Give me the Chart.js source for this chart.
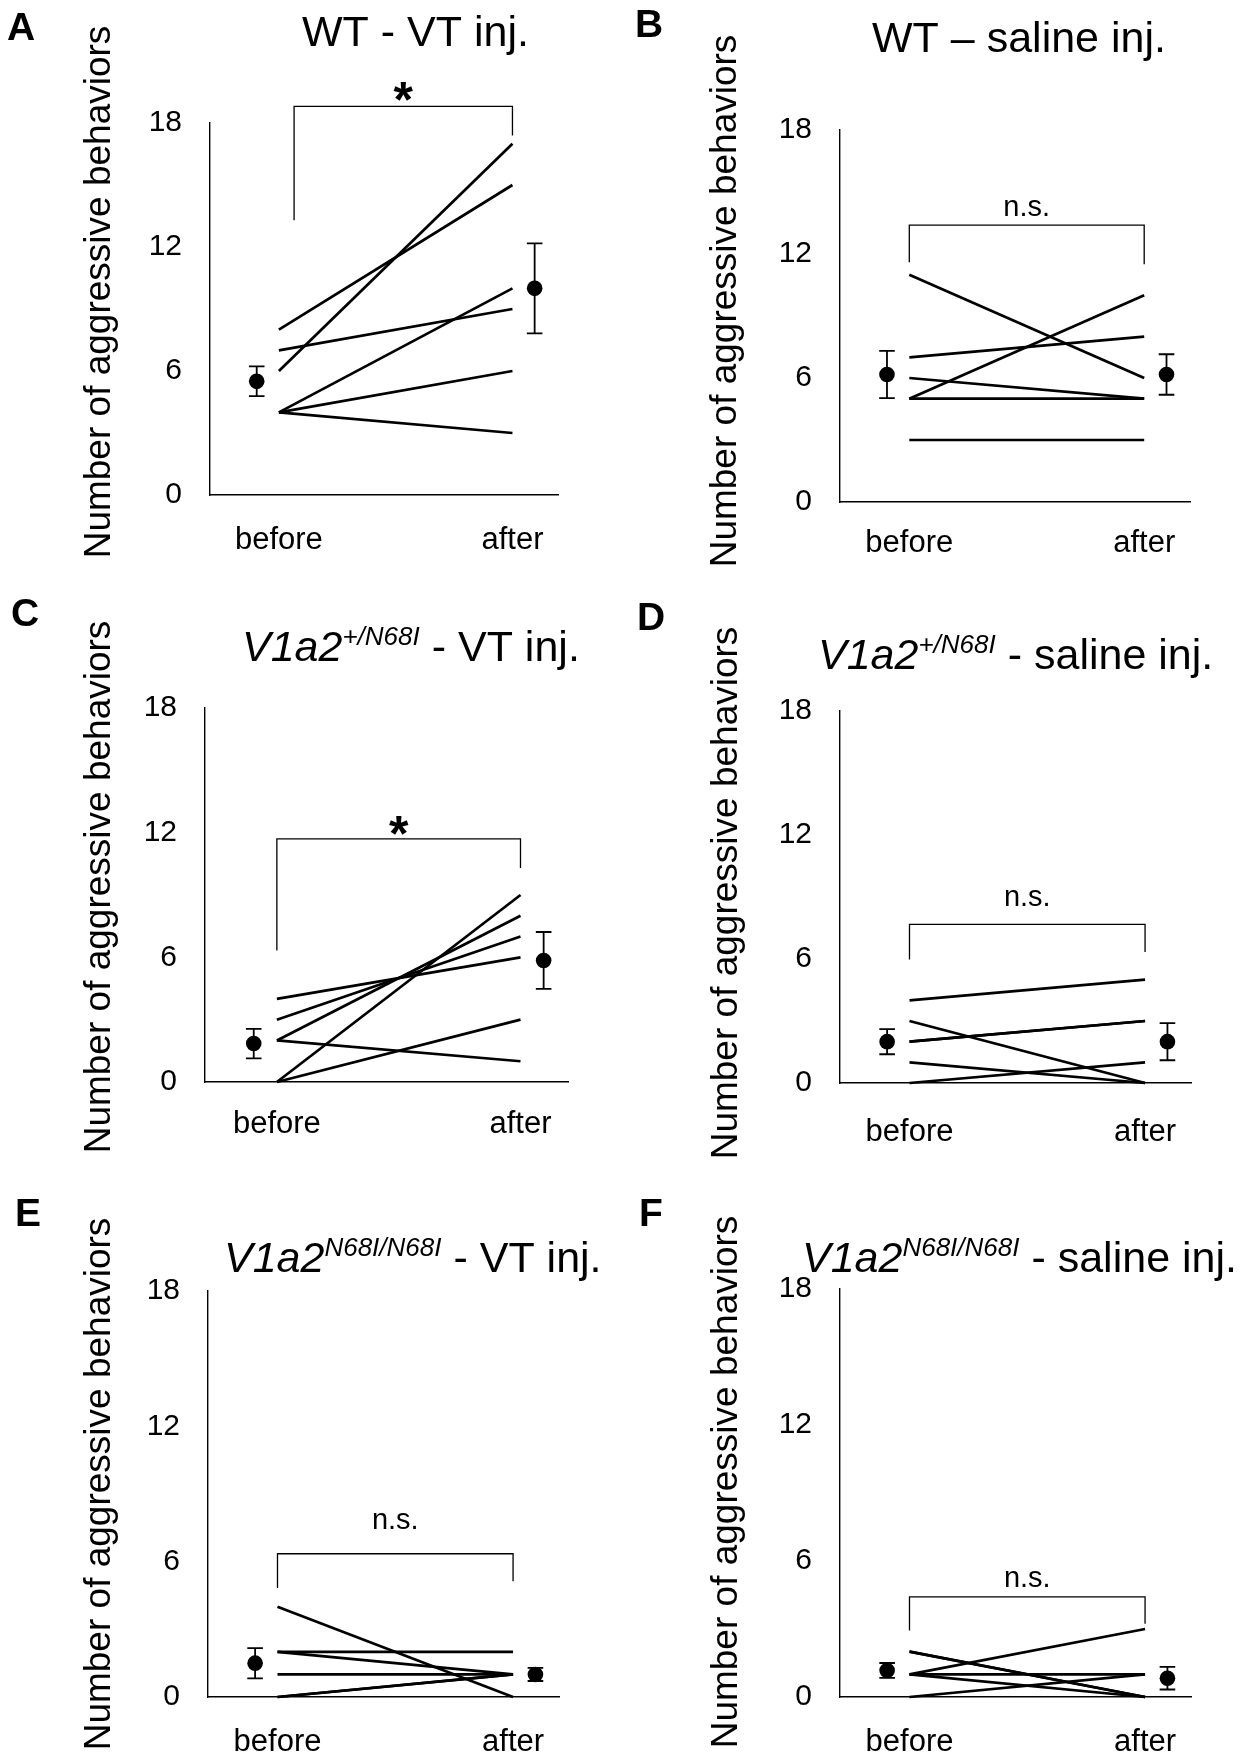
<!DOCTYPE html>
<html>
<head>
<meta charset="utf-8">
<title>Aggressive behaviors before and after injection</title>
<style>
  html, body { margin: 0; padding: 0; background: #fff; }
  body { width: 1252px; height: 1754px; position: relative; overflow: hidden; }
  canvas { position: absolute; }
</style>
<script src="https://cdn.jsdelivr.net/npm/chart.js@4.4.1/dist/chart.umd.min.js"></script>
</head>
<body>
<script>
// ---- shared labels ----
const phases = ['before', 'after'];
const yTicks = [0, 6, 12, 18];
const yLabel = 'Number of aggressive behaviors';

// ---- A: WT, VT injection (one pair per animal) ----
const wtVtBefore = [8, 6, 7, 4, 4, 4];
const wtVtAfter  = [15, 17, 9, 10, 6, 3];
const wtVtMean   = [5.5, 10.0];
const wtVtSem    = [0.72, 2.18];

// ---- B: WT, saline injection ----
const wtSalBefore = [11, 5, 7, 6, 5, 3];
const wtSalAfter  = [6, 10, 8, 5, 5, 3];
const wtSalMean   = [6.17, 6.17];
const wtSalSem    = [1.14, 0.98];

// ---- C: V1a2 +/N68I, VT injection ----
const hetVtBefore = [4, 3, 2, 0, 0, 2];
const hetVtAfter  = [6, 7, 8, 9, 3, 1];
const hetVtMean   = [1.85, 5.85];
const hetVtSem    = [0.71, 1.37];

// ---- D: V1a2 +/N68I, saline injection ----
const hetSalBefore = [4, 3, 2, 2, 1, 0];
const hetSalAfter  = [5, 0, 3, 3, 0, 1];
const hetSalMean   = [2.0, 2.0];
const hetSalSem    = [0.61, 0.9];

// ---- E: V1a2 N68I/N68I, VT injection ----
const homVtBefore = [4, 2, 2, 1, 0, 0];
const homVtAfter  = [0, 2, 1, 1, 1, 1];
const homVtMean   = [1.5, 1.0];
const homVtSem    = [0.67, 0.29];

// ---- F: V1a2 N68I/N68I, saline injection ----
const homSalBefore = [2, 2, 1, 1, 1, 0];
const homSalAfter  = [0, 0, 3, 1, 0, 1];
const homSalMean   = [1.17, 0.83];
const homSalSem    = [0.33, 0.5];

// ---- styling ----
const FONT = '"Liberation Sans", Arial, Helvetica, sans-serif';
const TITLE_SIZE = 43;
const SUP_SIZE = 26;
const LETTER_SIZE = 39;
const Y_TITLE_SIZE = 37;
const Y_TICK_SIZE = 30;
const X_TICK_SIZE = 31;
const MEAN_SHIFT = 0.095;   // mean markers sit just outside the paired lines
const X_MIN = 0.705, X_MAX = 2.195;
const CAP = 7.8;

// page layout of the six panels: canvas box [x, y, w, h], plot rect [left, top, right, bottom]
// yTitle: [baseline x, centre y] of the rotated axis title
const panels = [
  { letter: 'A', box: [0, 0, 626, 580], plot: [210, 123, 558, 495], yTitle: [110, 292], xLabelY: 540,
    letterPos: [7, 40], titlePos: [302, 46],
    title: [{ t: 'WT - VT inj.' }],
    before: wtVtBefore, after: wtVtAfter, mean: wtVtMean, sem: wtVtSem,
    sig: { x0: 1.065, x1: 2, top: 18.8, left: 13.3, right: 17.4, text: '*', textY: 19.7 } },
  { letter: 'B', box: [626, 0, 626, 580], plot: [840, 130, 1190, 502], yTitle: [736, 301], xLabelY: 543,
    letterPos: [635, 37], titlePos: [872, 52],
    title: [{ t: 'WT \u2013 saline inj.' }],
    before: wtSalBefore, after: wtSalAfter, mean: wtSalMean, sem: wtSalSem,
    sig: { x0: 1, x1: 2, top: 13.4, left: 11.6, right: 11.5, text: 'n.s.', textY: 14.2 } },
  { letter: 'C', box: [0, 580, 626, 580], plot: [205, 708, 568, 1082], yTitle: [110, 887], xLabelY: 1124,
    letterPos: [11, 626], titlePos: [242, 661],
    title: [{ t: 'V1a2', i: true }, { t: '+/N68I', i: true, sup: true }, { t: ' - VT inj.' }],
    before: hetVtBefore, after: hetVtAfter, mean: hetVtMean, sem: hetVtSem,
    sig: { x0: 1, x1: 2, top: 11.7, left: 6.33, right: 10.3, text: '*', textY: 12.5 } },
  { letter: 'D', box: [626, 580, 626, 580], plot: [840, 711, 1191, 1083], yTitle: [737, 893], xLabelY: 1132,
    letterPos: [637, 630], titlePos: [818, 669],
    title: [{ t: 'V1a2', i: true }, { t: '+/N68I', i: true, sup: true }, { t: ' - saline inj.' }],
    before: hetSalBefore, after: hetSalAfter, mean: hetSalMean, sem: hetSalSem,
    sig: { x0: 1, x1: 2, top: 7.68, left: 5.98, right: 6.34, text: 'n.s.', textY: 8.94 } },
  { letter: 'E', box: [0, 1160, 626, 594], plot: [208, 1291, 559, 1697], yTitle: [110, 1484], xLabelY: 1742,
    letterPos: [15, 1226], titlePos: [224, 1272],
    title: [{ t: 'V1a2', i: true }, { t: 'N68I/N68I', i: true, sup: true }, { t: ' - VT inj.' }],
    before: homVtBefore, after: homVtAfter, mean: homVtMean, sem: homVtSem,
    sig: { x0: 1, x1: 2, top: 6.35, left: 4.83, right: 5.13, text: 'n.s.', textY: 7.8 } },
  { letter: 'F', box: [626, 1160, 626, 594], plot: [840, 1289, 1191, 1697], yTitle: [737, 1482], xLabelY: 1742,
    letterPos: [639, 1226], titlePos: [802, 1272],
    title: [{ t: 'V1a2', i: true }, { t: 'N68I/N68I', i: true, sup: true }, { t: ' - saline inj.' }],
    before: homSalBefore, after: homSalAfter, mean: homSalMean, sem: homSalSem,
    sig: { x0: 1, x1: 2, top: 4.42, left: 2.93, right: 3.23, text: 'n.s.', textY: 5.18 } }
];

// x position of each phase (1 = before, 2 = after)
const phaseX = name => phases.indexOf(name) + 1;

// error bars, significance bracket, axis title, panel letter and panel title
function decorations(p) {
  const [bx, by] = p.box;
  return {
    id: 'decor' + p.letter,
    afterDatasetsDraw(chart) {
      const { ctx, scales: { x, y } } = chart;
      ctx.save();
      ctx.strokeStyle = '#000';
      ctx.fillStyle = '#000';

      // mean ± SEM
      ctx.lineWidth = 1.8;
      const meanMeta = chart.getDatasetMeta(chart.data.datasets.length - 1);
      p.mean.forEach((m, i) => {
        const px = meanMeta.data[i].x;
        const yLo = y.getPixelForValue(m - p.sem[i]);
        const yHi = y.getPixelForValue(m + p.sem[i]);
        ctx.beginPath();
        ctx.moveTo(px, yLo); ctx.lineTo(px, yHi);
        ctx.moveTo(px - CAP, yLo); ctx.lineTo(px + CAP, yLo);
        ctx.moveTo(px - CAP, yHi); ctx.lineTo(px + CAP, yHi);
        ctx.stroke();
      });

      // bracket
      const s = p.sig;
      const xl = x.getPixelForValue(s.x0), xr = x.getPixelForValue(s.x1);
      const yt = y.getPixelForValue(s.top);
      ctx.lineWidth = 1.3;
      ctx.beginPath();
      ctx.moveTo(xl, y.getPixelForValue(s.left));
      ctx.lineTo(xl, yt);
      ctx.lineTo(xr, yt);
      ctx.lineTo(xr, y.getPixelForValue(s.right));
      ctx.stroke();

      const cx = (xl + xr) / 2;
      const cy = y.getPixelForValue(s.textY);
      ctx.textAlign = 'center';
      ctx.textBaseline = 'alphabetic';
      if (s.text === '*') {
        ctx.font = 'bold 50px ' + FONT;
        ctx.fillText(s.text, cx, cy + 0.575 * 50);
      } else {
        ctx.font = '29px ' + FONT;
        ctx.fillText(s.text, cx, cy + 0.26 * 29);
      }
      ctx.restore();
    },
    afterDraw(chart) {
      const ctx = chart.ctx;
      ctx.save();
      ctx.fillStyle = '#000';

      // rotated y-axis title
      ctx.save();
      ctx.translate(p.yTitle[0] - bx, p.yTitle[1] - by);
      ctx.rotate(-Math.PI / 2);
      ctx.font = Y_TITLE_SIZE + 'px ' + FONT;
      ctx.textAlign = 'center';
      ctx.textBaseline = 'alphabetic';
      ctx.fillText(yLabel, 0, 0);
      ctx.restore();

      // panel letter
      ctx.textAlign = 'left';
      ctx.textBaseline = 'alphabetic';
      ctx.font = 'bold ' + LETTER_SIZE + 'px ' + FONT;
      ctx.fillText(p.letter, p.letterPos[0] - bx, p.letterPos[1] - by);

      // panel title (italic gene name with superscript genotype)
      let tx = p.titlePos[0] - bx;
      const ty = p.titlePos[1] - by;
      p.title.forEach(seg => {
        const size = seg.sup ? SUP_SIZE : TITLE_SIZE;
        ctx.font = (seg.i ? 'italic ' : '') + size + 'px ' + FONT;
        ctx.fillText(seg.t, tx, ty - (seg.sup ? 16 : 0));
        tx += ctx.measureText(seg.t).width;
      });
      ctx.restore();
    }
  };
}

panels.forEach(p => {
  const [bx, by, bw, bh] = p.box;
  const [pl, pt, pr, pb] = p.plot;

  const canvas = document.createElement('canvas');
  canvas.width = bw;
  canvas.height = bh;
  canvas.style.left = bx + 'px';
  canvas.style.top = by + 'px';
  canvas.style.width = bw + 'px';
  canvas.style.height = bh + 'px';
  document.body.appendChild(canvas);

  const yWidth = pl - bx;
  const xHeight = by + bh - pb;
  const xTickPad = p.xLabelY - pb - X_TICK_SIZE * 1.2 / 2;

  const pairs = p.before.map((b, i) => ({
    data: [{ x: phaseX('before'), y: b }, { x: phaseX('after'), y: p.after[i] }],
    borderColor: '#000',
    borderWidth: 2.7,
    pointRadius: 0,
    pointHoverRadius: 0,
    tension: 0,
    clip: false
  }));
  const means = {
    data: p.mean.map((m, i) => ({
      x: phaseX(phases[i]) + (i === 0 ? -MEAN_SHIFT : MEAN_SHIFT),
      y: m
    })),
    showLine: false,
    pointRadius: 7.8,
    pointHoverRadius: 7.8,
    pointBackgroundColor: '#000',
    pointBorderColor: '#000',
    pointBorderWidth: 0,
    clip: false
  };

  new Chart(canvas, {
    type: 'line',
    data: { datasets: [...pairs, means] },
    options: {
      responsive: false,
      animation: false,
      devicePixelRatio: 1,
      events: [],
      layout: { padding: { left: 0, top: pt - by, right: bx + bw - pr, bottom: 0 } },
      plugins: { legend: { display: false }, tooltip: { enabled: false } },
      scales: {
        x: {
          type: 'linear',
          min: X_MIN,
          max: X_MAX,
          grid: { display: false, drawTicks: false },
          border: { display: true, color: '#000', width: 1.4 },
          afterBuildTicks: s => { s.ticks = phases.map(ph => ({ value: phaseX(ph) })); },
          afterFit: s => { s.height = xHeight; },
          ticks: {
            autoSkip: false,
            maxRotation: 0,
            padding: xTickPad,
            color: '#000',
            font: { family: FONT, size: X_TICK_SIZE, lineHeight: 1.2 },
            callback: v => phases[v - 1] || ''
          }
        },
        y: {
          min: 0,
          max: 18,
          grid: { display: false, drawTicks: false },
          border: { display: true, color: '#000', width: 1.4 },
          afterBuildTicks: s => { s.ticks = yTicks.map(v => ({ value: v })); },
          afterFit: s => { s.width = yWidth; },
          ticks: {
            padding: 28,
            color: '#000',
            font: { family: FONT, size: Y_TICK_SIZE, lineHeight: 1.2 }
          },
          title: { display: false, text: yLabel }
        }
      }
    },
    plugins: [decorations(p)]
  });
});
</script>
</body>
</html>
